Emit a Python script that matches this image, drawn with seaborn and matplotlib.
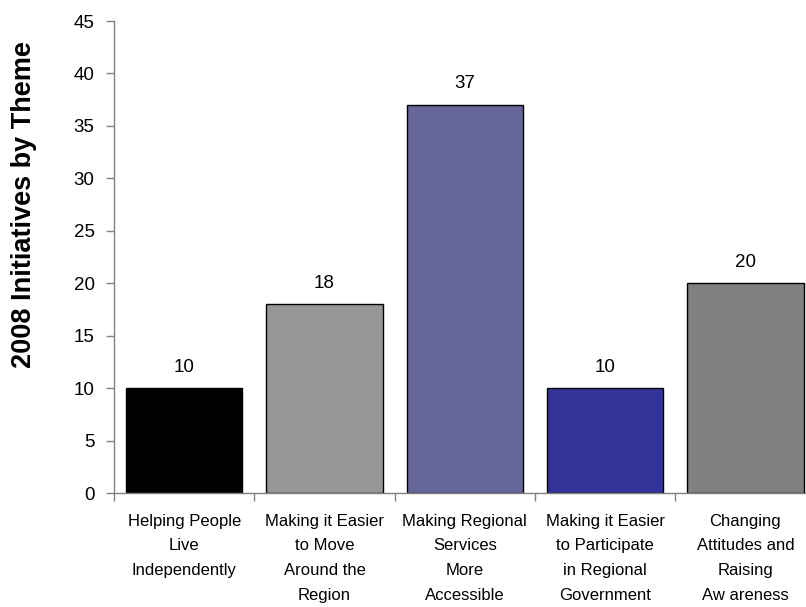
import matplotlib
matplotlib.use("Agg")
import matplotlib.pyplot as plt
import seaborn as sns
import pandas as pd
import numpy as np

categories = [
    "Helping People\nLive\nIndependently",
    "Making it Easier\nto Move\nAround the\nRegion",
    "Making Regional\nServices\nMore\nAccessible",
    "Making it Easier\nto Participate\nin Regional\nGovernment",
    "Changing\nAttitudes and\nRaising\nAw areness",
]
values = [10, 18, 37, 10, 20]
bar_colors = ["#000000", "#969696", "#666699", "#333399", "#808080"]
y_ticks = [0, 5, 10, 15, 20, 25, 30, 35, 40, 45]
y_label = "2008 Initiatives by Theme"

sns.set_theme(style="white")
plt.rcParams["font.family"] = ["Liberation Sans", "DejaVu Sans"]
plt.rcParams["text.color"] = "black"

df = pd.DataFrame({"cat": categories, "val": values})

W, H = 806, 607
fig = plt.figure(figsize=(W / 100, H / 100), dpi=100)
ax = fig.add_axes([114 / W, (H - 493) / H, 701.5 / W, (493 - 21) / H])

sns.barplot(data=df, x="cat", y="val", hue="cat", palette=bar_colors,
            order=categories, hue_order=categories, dodge=False, legend=False,
            width=0.83, edgecolor="black", linewidth=1.0, saturation=1, ax=ax)

ax.set_xlim(-0.5, len(categories) - 0.5)
ax.set_ylim(0, 45)
ax.set_yticks(y_ticks)
ax.set_yticklabels([str(t) for t in y_ticks], fontsize=13.5)
ax.tick_params(axis="y", direction="out", length=6, width=1, color="#808080",
               labelcolor="black", pad=8, left=True)

ax.set_xticks(range(len(categories)))
ax.set_xticklabels(categories, fontsize=12, linespacing=1.8, va="top")
ax.tick_params(axis="x", which="major", length=0, pad=15, labelcolor="black")
ax.set_xticks(np.arange(-0.5, len(categories), 1.0), minor=True)
ax.tick_params(axis="x", which="minor", direction="out", length=6, width=1,
               color="#808080", bottom=True)

for side in ["top", "right"]:
    ax.spines[side].set_visible(False)
for side in ["left", "bottom"]:
    ax.spines[side].set_color("#808080")
    ax.spines[side].set_linewidth(1)

ax.set_xlabel("")
ax.set_ylabel("")
fig.text(24 / W, 1 - 205 / H, y_label, rotation=90, ha="center", va="center",
         fontsize=19.5, fontweight="bold", color="black")

for i, v in enumerate(values):
    ax.annotate(str(v), xy=(i, v), xytext=(0, 9), textcoords="offset points",
                ha="center", va="bottom", fontsize=13.5, color="black")

fig.savefig("out.png", dpi=100)
